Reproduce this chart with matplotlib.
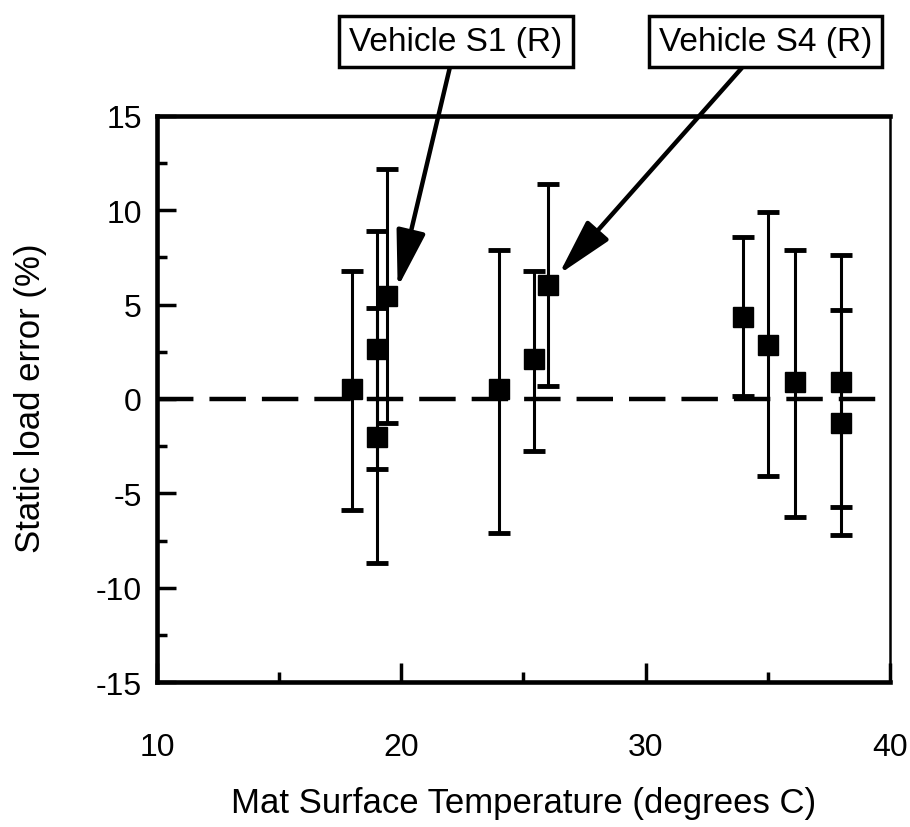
import matplotlib
matplotlib.use("Agg")
import matplotlib.pyplot as plt
from matplotlib.ticker import MultipleLocator

# mat surface temperature (deg C) and static load error (%)
temps = [18.0, 19.0, 19.0, 19.4, 24.0, 25.45, 26.0, 34.0, 35.0, 36.1, 38.0, 38.0]
errors = [0.55, 2.65, -2.0, 5.45, 0.5, 2.1, 6.05, 4.35, 2.85, 0.9, 0.9, -1.25]
upper = [6.8, 8.9, 4.8, 12.2, 7.9, 6.8, 11.4, 8.6, 9.9, 7.9, 7.6, 4.7]
lower = [-5.9, -3.7, -8.7, -1.3, -7.1, -2.75, 0.7, 0.15, -4.1, -6.25, -5.7, -7.2]

x_ticks = [10, 20, 30, 40]
y_ticks = [-15, -10, -5, 0, 5, 10, 15]

callouts = ["Vehicle S1 (R)", "Vehicle S4 (R)"]
callout_targets = [(19.85, 5.9), (26.45, 6.6)]
callout_text_pos = [(22.24, 18.94), (34.9, 18.94)]


def main():
    plt.rcParams["font.family"] = ["Liberation Sans", "DejaVu Sans"]
    plt.rcParams["axes.unicode_minus"] = False
    fig = plt.figure(figsize=(9.1, 8.28), dpi=100)
    ax = fig.add_axes([0.1725, 0.175, 0.8055, 0.684])

    yerr = [[e - lo for e, lo in zip(errors, lower)],
            [up - e for e, up in zip(errors, upper)]]

    ax.axhline(0, color="black", lw=3.2, dashes=(8.2, 3.6), zorder=1)
    ax.errorbar(temps, errors, yerr=yerr, fmt="s", color="black",
                ms=14, elinewidth=2.2, capsize=8, capthick=3.5, zorder=3)

    ax.set_xlim(10, 40)
    ax.set_ylim(-15, 15)
    ax.set_xticks(x_ticks)
    ax.set_yticks(y_ticks)
    ax.xaxis.set_minor_locator(MultipleLocator(5))
    ax.yaxis.set_minor_locator(MultipleLocator(2.5))
    ax.tick_params(which="both", direction="in", width=2.5,
                   labelsize=23, top=False, right=False)
    ax.tick_params(which="major", length=14)
    ax.tick_params(which="minor", length=7)
    ax.tick_params(axis="x", pad=36)
    ax.tick_params(axis="y", pad=11)

    for side in ["left", "bottom", "top"]:
        ax.spines[side].set_linewidth(3.3)
    ax.spines["right"].set_linewidth(1.8)

    ax.set_xlabel("Mat Surface Temperature (degrees C)", fontsize=25,
                  va="center")
    ax.xaxis.set_label_coords(0.5, -0.212)
    ax.set_ylabel("Static load error (%)", fontsize=25, va="center")
    ax.yaxis.set_label_coords(-0.173, 0.503)

    for label, target, pos in zip(callouts, callout_targets, callout_text_pos):
        ax.annotate(label, xy=target, xytext=pos, fontsize=24,
                    ha="center", va="center", annotation_clip=False,
                    bbox=dict(boxstyle="square,pad=0.3", fc="white",
                              ec="black", lw=2.5),
                    arrowprops=dict(arrowstyle="-|>,head_length=1.75,head_width=0.45",
                                    color="black", lw=3.2, shrinkA=0, shrinkB=0,
                                    mutation_scale=20))

    fig.savefig("out.png", dpi=100)


if __name__ == "__main__":
    main()
